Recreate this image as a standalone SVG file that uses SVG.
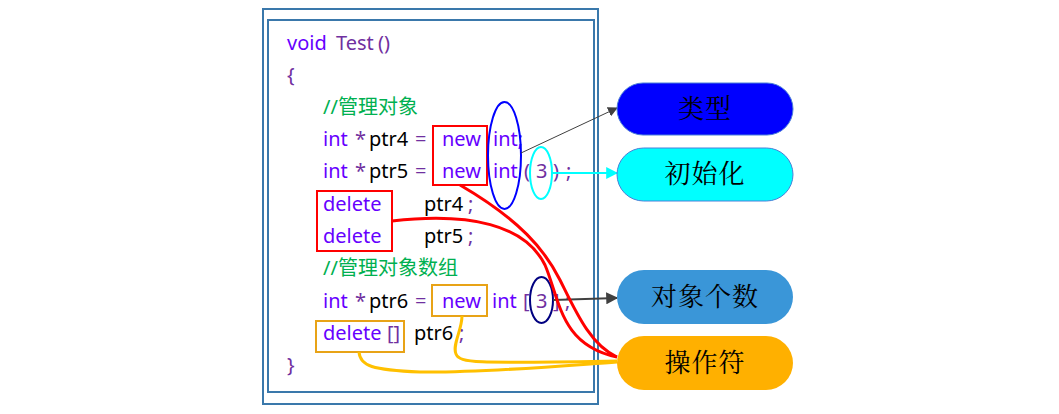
<svg xmlns="http://www.w3.org/2000/svg" width="1059" height="414" viewBox="0 0 1059 414">
<defs>
<style>
.code{font-family:"Noto Sans","Noto Sans CJK SC",sans-serif;font-size:20px}
.kw{fill:#6600ff}
.pu{fill:#7030a0}
.bk{fill:#000}
.cm{fill:#00b050}
.pill{font-family:"Noto Serif CJK SC","Noto Sans CJK SC",serif;font-size:26px;fill:#000;text-anchor:middle;letter-spacing:1px}
.frame{fill:none;stroke:#3a78ab;stroke-width:2}
.bx{fill:none;stroke-width:2}
.red{stroke:#ff0000}
.org{stroke:#e8a317}
.conn{fill:none}
</style>
<marker id="ahGray" viewBox="0 0 10 10" refX="9" refY="5" markerWidth="10" markerHeight="10" markerUnits="userSpaceOnUse" orient="auto"><path d="M0,0 L10,5 L0,10 z" fill="#404040"/></marker>
<marker id="ahDark" viewBox="0 0 10 10" refX="9" refY="5" markerWidth="12" markerHeight="12" markerUnits="userSpaceOnUse" orient="auto"><path d="M0,0 L10,5 L0,10 z" fill="#404040"/></marker>
<marker id="ahCyan" viewBox="0 0 10 10" refX="9" refY="5" markerWidth="12" markerHeight="12" markerUnits="userSpaceOnUse" orient="auto"><path d="M0,0 L10,5 L0,10 z" fill="#00ffff"/></marker>
</defs>
<rect width="1059" height="414" fill="#fff"/>
<g id="frame">
<rect class="frame" x="263" y="9" width="335" height="395"/>
<rect class="frame" x="268" y="20" width="326" height="372"/>
</g>
<g id="code" class="code">
<text y="50"><tspan x="287" class="kw">void</tspan><tspan x="336" class="pu">Test</tspan><tspan x="378" class="pu">()</tspan></text>
<text x="287" y="82" class="pu">{</text>
<text x="323" y="114" class="cm">//管理对象</text>
<text y="146"><tspan x="323" class="kw">int</tspan><tspan x="355" class="pu">*</tspan><tspan x="369" class="bk">ptr4</tspan><tspan x="415" class="pu">=</tspan><tspan x="442" class="kw">new</tspan><tspan x="493" class="kw">int;</tspan></text>
<text y="178"><tspan x="323" class="kw">int</tspan><tspan x="355" class="pu">*</tspan><tspan x="369" class="bk">ptr5</tspan><tspan x="415" class="pu">=</tspan><tspan x="442" class="kw">new</tspan><tspan x="493" class="kw">int</tspan><tspan x="524" class="pu">(</tspan><tspan x="536" class="pu">3</tspan><tspan x="553" class="pu">)</tspan><tspan x="566" class="pu">;</tspan></text>
<text y="211"><tspan x="323" class="kw">delete</tspan><tspan x="424" class="bk">ptr4</tspan><tspan x="468" class="pu">;</tspan></text>
<text y="243"><tspan x="323" class="kw">delete</tspan><tspan x="424" class="bk">ptr5</tspan><tspan x="468" class="pu">;</tspan></text>
<text x="323" y="275" class="cm">//管理对象数组</text>
<text y="308"><tspan x="323" class="kw">int</tspan><tspan x="355" class="pu">*</tspan><tspan x="369" class="bk">ptr6</tspan><tspan x="415" class="pu">=</tspan><tspan x="442" class="kw">new</tspan><tspan x="492" class="kw">int</tspan><tspan x="523" class="pu">[</tspan><tspan x="536" class="pu">3</tspan><tspan x="553" class="pu">]</tspan><tspan x="565" class="pu">;</tspan></text>
<text y="340"><tspan x="323" class="kw">delete</tspan><tspan x="387" class="pu">[]</tspan><tspan x="414" class="bk">ptr6</tspan><tspan x="459" class="pu">;</tspan></text>
<text x="287" y="372" class="pu">}</text>
</g>
<g id="marks">
<rect class="bx red" x="433" y="126" width="54" height="59"/>
<rect class="bx red" x="317" y="191" width="75" height="60"/>
<rect class="bx org" x="432" y="285" width="55" height="31"/>
<rect class="bx org" x="316" y="321" width="88" height="31"/>
<ellipse cx="504.5" cy="155.5" rx="16.5" ry="53.5" fill="none" stroke="#0000ff" stroke-width="2"/>
<ellipse cx="541" cy="173" rx="11" ry="26" fill="none" stroke="#00ffff" stroke-width="2"/>
<ellipse cx="541.5" cy="300" rx="11.5" ry="23" fill="none" stroke="#000080" stroke-width="2"/>
</g>
<g id="connectors" class="conn">
<line x1="521" y1="153" x2="617" y2="108" stroke="#404040" stroke-width="1" marker-end="url(#ahGray)"/>
<line x1="552" y1="173" x2="617" y2="173" stroke="#00ffff" stroke-width="2" marker-end="url(#ahCyan)"/>
<line x1="553" y1="300" x2="617" y2="298" stroke="#404040" stroke-width="2" marker-end="url(#ahDark)"/>
<path d="M460,185 C520,220 545,250 560,280 C575,310 590,345 617,357" stroke="#ff0000" stroke-width="3" fill="none"/>
<path d="M392,221 C470,212 525,225 545,265 C560,300 560,345 617,357" stroke="#ff0000" stroke-width="3" fill="none"/>
<path d="M462,316 C462,330 452,345 456,354 C460,364 480,363 617,361" stroke="#ffc000" stroke-width="3" fill="none"/>
<path d="M359,352 C360,366 372,370 420,372 C480,373 560,366 617,362" stroke="#ffc000" stroke-width="3" fill="none"/>
</g>
<g id="n-type">
<rect x="617" y="83" width="176" height="52" rx="26" fill="#0000ff" stroke="#4a7fd8" stroke-width="1"/>
<text class="pill" x="705" y="118">类型</text>
</g>
<g id="n-init">
<rect x="617" y="148" width="176" height="53" rx="26.5" fill="#00ffff" stroke="#4a7fd8" stroke-width="1"/>
<text class="pill" x="705" y="183">初始化</text>
</g>
<g id="n-count">
<rect x="617" y="270" width="176" height="54" rx="27" fill="#3a96d8"/>
<text class="pill" x="705" y="306">对象个数</text>
</g>
<g id="n-op">
<rect x="617" y="336" width="176" height="54" rx="27" fill="#ffb000"/>
<text class="pill" x="705" y="372">操作符</text>
</g>
</svg>
